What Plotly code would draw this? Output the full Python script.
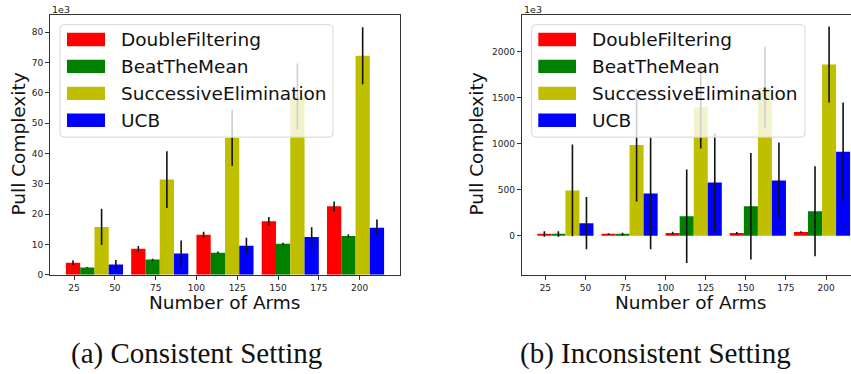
import plotly.graph_objects as go

# ---- data -------------------------------------------------------------
methods = ["DoubleFiltering", "BeatTheMean", "SuccessiveElimination", "UCB"]
colors = ["#ff0000", "#008000", "#bfbf00", "#0000ff"]
group_starts = [20, 60, 100, 140, 180]   # left edge of each bar group
bar_width = 8.75

# Consistent setting (values in units of 1e3 pulls)
cons_mean = {
    "DoubleFiltering":       [4.0, 8.6, 13.2, 17.7, 22.6],
    "BeatTheMean":           [2.4, 5.0, 7.3, 10.2, 12.8],
    "SuccessiveElimination": [15.8, 31.4, 45.2, 58.8, 72.3],
    "UCB":                   [3.4, 7.0, 9.6, 12.5, 15.5],
}
cons_err = {
    "DoubleFiltering":       [0.8, 0.9, 1.0, 1.4, 1.6],
    "BeatTheMean":           [0.2, 0.3, 0.4, 0.4, 0.6],
    "SuccessiveElimination": [6.0, 9.4, 9.2, 10.9, 9.4],
    "UCB":                   [1.5, 4.3, 2.6, 3.2, 2.7],
}

# Inconsistent setting (values in units of 1e3 pulls)
incons_mean = {
    "DoubleFiltering":       [18, 18, 29, 29, 40],
    "BeatTheMean":           [18, 18, 212, 320, 266],
    "SuccessiveElimination": [492, 987, 1397, 1609, 1860],
    "UCB":                   [136, 460, 578, 600, 912],
}
incons_err = {
    "DoubleFiltering":       [30, 10, 15, 12, 8],
    "BeatTheMean":           [30, 15, 508, 578, 490],
    "SuccessiveElimination": [499, 614, 450, 444, 413],
    "UCB":                   [284, 607, 538, 413, 535],
}

x_ticks = [25, 50, 75, 100, 125, 150, 175, 200]
captions = ["(a) Consistent Setting", "(b) Inconsistent Setting"]
x_title = "Number of Arms"
y_title = "Pull Complexity"

# ---- geometry (pixels) ------------------------------------------------
W, H = 851, 374
FONT = "DejaVu Sans"
AX_TOP, AX_BOT = 15, 278.5
LEFT_AX = (50, 400)
RIGHT_AX = (521.7, 851)
RIGHT_PX_PER_UNIT = 1.604


def px(x):
    return x / W


def py(y):
    return 1 - y / H


fig = go.Figure()


def add_bars(means, errs, xa, ya):
    for i, (name, col) in enumerate(zip(methods, colors)):
        xs = [g + bar_width / 2 + i * bar_width for g in group_starts]
        fig.add_trace(go.Bar(
            x=xs, y=means[name], width=bar_width, name=name,
            marker=dict(color=col, line=dict(width=0)),
            error_y=dict(type="data", array=errs[name], color="#111111",
                         thickness=1.6, width=0),
            xaxis=xa, yaxis=ya, showlegend=False,
        ))


add_bars(cons_mean, cons_err, "x", "y")
add_bars(incons_mean, incons_err, "x2", "y2")

# autoscale with 5% padding, bars sticky at zero
x_lo = group_starts[0]
x_hi = group_starts[-1] + 4 * bar_width
pad = 0.05 * (x_hi - x_lo)
left_xrange = [x_lo - pad, x_hi + pad]
right_xrange = [x_lo - pad,
                x_lo - pad + (RIGHT_AX[1] - RIGHT_AX[0]) / RIGHT_PX_PER_UNIT]

c_top = max(m + e for n in methods for m, e in zip(cons_mean[n], cons_err[n]))
left_yrange = [0, c_top * 1.05]
i_top = max(m + e for n in methods for m, e in zip(incons_mean[n], incons_err[n]))
i_bot = min(m - e for n in methods for m, e in zip(incons_mean[n], incons_err[n]))
ipad = 0.05 * (i_top - i_bot)
right_yrange = [i_bot - ipad, i_top + ipad]

axis_common = dict(
    showline=True, linecolor="#333333", linewidth=1,
    ticks="outside", ticklen=4, tickwidth=1, tickcolor="#333333",
    tickfont=dict(family=FONT, size=9, color="#222222"),
    showgrid=False, zeroline=False,
)

fig.update_layout(
    width=W, height=H,
    margin=dict(l=0, r=0, t=0, b=0),
    paper_bgcolor="white", plot_bgcolor="white",
    barmode="overlay",
    showlegend=False,
    xaxis=dict(axis_common, domain=[px(LEFT_AX[0]), px(LEFT_AX[1])],
               range=left_xrange, tickvals=x_ticks, mirror=True, anchor="y"),
    yaxis=dict(axis_common, domain=[py(AX_BOT), py(AX_TOP)],
               range=left_yrange, dtick=10, tick0=0, mirror=True, anchor="x"),
    xaxis2=dict(axis_common, domain=[px(RIGHT_AX[0]), 1],
                range=right_xrange, tickvals=x_ticks, mirror=True, anchor="y2"),
    yaxis2=dict(axis_common, domain=[py(AX_BOT), py(AX_TOP)],
                range=right_yrange, dtick=500, tick0=0, mirror=False, anchor="x2"),
)

shapes = []
annotations = []


def rounded_box(x0, y0, x1, y1, r=4):
    rx, ry = r / W, r / H
    X0, X1, Y0, Y1 = px(x0), px(x1), py(y1), py(y0)
    return (f"M {X0+rx},{Y0} L {X1-rx},{Y0} Q {X1},{Y0} {X1},{Y0+ry} "
            f"L {X1},{Y1-ry} Q {X1},{Y1} {X1-rx},{Y1} "
            f"L {X0+rx},{Y1} Q {X0},{Y1} {X0},{Y1-ry} "
            f"L {X0},{Y0+ry} Q {X0},{Y0} {X0+rx},{Y0} Z")


def add_legend(box_x0, box_x1, sw_x0, sw_x1, text_x):
    shapes.append(dict(type="path", xref="paper", yref="paper", layer="above",
                       path=rounded_box(box_x0, 25, box_x1, 139),
                       fillcolor="rgba(255,255,255,0.8)",
                       line=dict(color="#d6d6d6", width=1)))
    for k, (name, col) in enumerate(zip(methods, colors)):
        cy = 40 + k * 27.3
        shapes.append(dict(type="rect", xref="paper", yref="paper", layer="above",
                           x0=px(sw_x0), x1=px(sw_x1), y0=py(cy + 6.8), y1=py(cy - 6.8),
                           fillcolor=col, line=dict(width=0)))
        annotations.append(dict(x=px(text_x), y=py(cy), xref="paper", yref="paper",
                                text=name, showarrow=False, xanchor="left",
                                yanchor="middle",
                                font=dict(family=FONT, size=18.5, color="#111111")))


add_legend(60, 333, 67, 105, 119)
add_legend(531.7, 805, 538.3, 576, 590)

# axis titles, offset labels and captions
for cx, ytx, mult_x, cap_x, cap in [
    (225, 19, 50, 196, captions[0]),
    (691, 477, 521.7, 655, captions[1]),
]:
    annotations.append(dict(x=px(cx), y=py(307), xref="paper", yref="paper",
                            text=x_title, showarrow=False, xanchor="center",
                            yanchor="middle",
                            font=dict(family=FONT, size=18.5, color="#111111")))
    annotations.append(dict(x=px(ytx), y=py(146.5), xref="paper", yref="paper",
                            text=y_title, showarrow=False, textangle=-90,
                            xanchor="center", yanchor="middle",
                            font=dict(family=FONT, size=18.5, color="#111111")))
    annotations.append(dict(x=px(mult_x), y=py(10), xref="paper", yref="paper",
                            text="1e3", showarrow=False, xanchor="left",
                            yanchor="middle",
                            font=dict(family=FONT, size=9.5, color="#222222")))
    annotations.append(dict(x=px(cap_x), y=py(358), xref="paper", yref="paper",
                            text=cap, showarrow=False, xanchor="center",
                            yanchor="middle",
                            font=dict(family="Liberation Serif", size=29,
                                      color="#111111")))

fig.update_layout(shapes=shapes, annotations=annotations)

fig.write_html("out.html")
